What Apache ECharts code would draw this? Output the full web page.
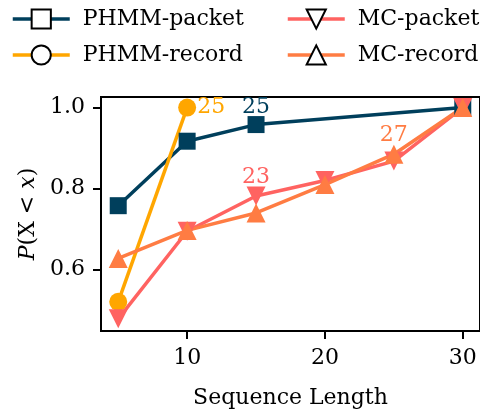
<!DOCTYPE html>
<html>
<head>
<meta charset="utf-8">
<script src="https://cdn.jsdelivr.net/npm/echarts@6/dist/echarts.min.js"></script>
<style>
  html, body { margin: 0; padding: 0; background: #fff; }
  #chart { width: 480px; height: 414px; }
</style>
</head>
<body>
<div id="chart"></div>
<script>
// Sequence lengths and cumulative probabilities per model
const phmmPacketX = [5, 10, 15, 30];
const phmmPacketY = [0.758, 0.917, 0.958, 1.0];
const phmmPacketNotes = [null, null, '25', null];

const phmmRecordX = [5, 10];
const phmmRecordY = [0.521, 1.0];
const phmmRecordNotes = [null, '25'];

const mcPacketX = [5, 10, 15, 20, 25, 30];
const mcPacketY = [0.479, 0.695, 0.782, 0.82, 0.868, 1.0];
const mcPacketNotes = [null, null, '23', null, null, null];

const mcRecordX = [5, 10, 15, 20, 25, 30];
const mcRecordY = [0.628, 0.697, 0.74, 0.81, 0.885, 1.0];
const mcRecordNotes = [null, null, null, null, '27', null];

const xTicks = [10, 20, 30];
const yTicks = [0.6, 0.8, 1.0];

const FONT = 'DejaVu Serif';
const COLORS = {
  phmmPacket: '#003f5c',
  phmmRecord: '#ffa600',
  mcPacket: '#ff6361',
  mcRecord: '#ff7c43'
};

function points(xs, ys, notes, color, pos) {
  return xs.map((x, i) => {
    const item = { value: [x, ys[i]] };
    if (notes[i] != null) {
      item.label = {
        show: true,
        formatter: notes[i],
        position: pos,
        distance: pos === 'right' ? 1 : -2,
        color: color,
        fontFamily: FONT,
        fontSize: 22
      };
    }
    return item;
  });
}

function lineSeries(name, xs, ys, notes, color, symbol, size, rotate, pos) {
  return {
    name: name,
    type: 'line',
    data: points(xs, ys, notes, color, pos),
    symbol: symbol,
    symbolSize: size,
    symbolRotate: rotate,
    showAllSymbol: true,
    lineStyle: { color: color, width: 3.5 },
    itemStyle: { color: color, borderWidth: 0 },
    label: { show: false },
    emphasis: { disabled: true },
    animation: false,
    clip: false
  };
}

const chart = echarts.init(document.getElementById('chart'), null, { renderer: 'canvas' });

const legendCommon = {
  orient: 'vertical',
  itemWidth: 57,
  itemHeight: 24,
  itemGap: 14,
  textStyle: { fontFamily: FONT, fontSize: 22, color: '#000', padding: [0, 0, 0, 8] },
  itemStyle: { color: '#fff', borderColor: '#000', borderWidth: 2 },
  lineStyle: { width: 3.5 },
  selectedMode: false
};

chart.setOption({
  backgroundColor: '#fff',
  animation: false,
  legend: [
    Object.assign({ left: 6, top: 3, data: ['PHMM-packet', 'PHMM-record'] }, legendCommon),
    Object.assign({ left: 281, top: 3, data: ['MC-packet', 'MC-record'] }, legendCommon)
  ],
  grid: {
    left: 101, top: 97, right: 0, bottom: 83,
    show: true, borderColor: '#000', borderWidth: 2,
    containLabel: false
  },
  xAxis: {
    type: 'value',
    min: 3.75, max: 31.25,
    name: 'Sequence Length',
    nameLocation: 'middle',
    nameGap: 56,
    nameTextStyle: { fontFamily: FONT, fontSize: 22, color: '#000' },
    axisLine: { show: true, lineStyle: { color: '#000', width: 2 } },
    axisTick: { show: true, customValues: xTicks, length: 8, lineStyle: { color: '#000', width: 2 } },
    axisLabel: { customValues: xTicks, margin: 16, fontFamily: FONT, fontSize: 22, color: '#000' },
    splitLine: { show: false }
  },
  yAxis: {
    type: 'value',
    min: 0.449, max: 1.026,
    name: '{i|P}(X < {i|x})',
    nameLocation: 'middle',
    nameGap: 62,
    nameRotate: 90,
    nameTextStyle: {
      fontFamily: FONT, fontSize: 22, color: '#000',
      rich: { i: { fontFamily: FONT, fontSize: 22, fontStyle: 'italic', color: '#000' } }
    },
    axisLine: { show: true, lineStyle: { color: '#000', width: 2 } },
    axisTick: { show: true, customValues: yTicks, length: 8, lineStyle: { color: '#000', width: 2 } },
    axisLabel: {
      customValues: yTicks, margin: 16, fontFamily: FONT, fontSize: 22, color: '#000',
      formatter: v => v.toFixed(1)
    },
    splitLine: { show: false }
  },
  series: [
    lineSeries('PHMM-packet', phmmPacketX, phmmPacketY, phmmPacketNotes, COLORS.phmmPacket, 'rect', 17, 0, 'top'),
    lineSeries('PHMM-record', phmmRecordX, phmmRecordY, phmmRecordNotes, COLORS.phmmRecord, 'circle', 18, 0, 'right'),
    lineSeries('MC-packet', mcPacketX, mcPacketY, mcPacketNotes, COLORS.mcPacket, 'triangle', 19, 180, 'top'),
    lineSeries('MC-record', mcRecordX, mcRecordY, mcRecordNotes, COLORS.mcRecord, 'triangle', 19, 0, 'top')
  ]
});
</script>
</body>
</html>
